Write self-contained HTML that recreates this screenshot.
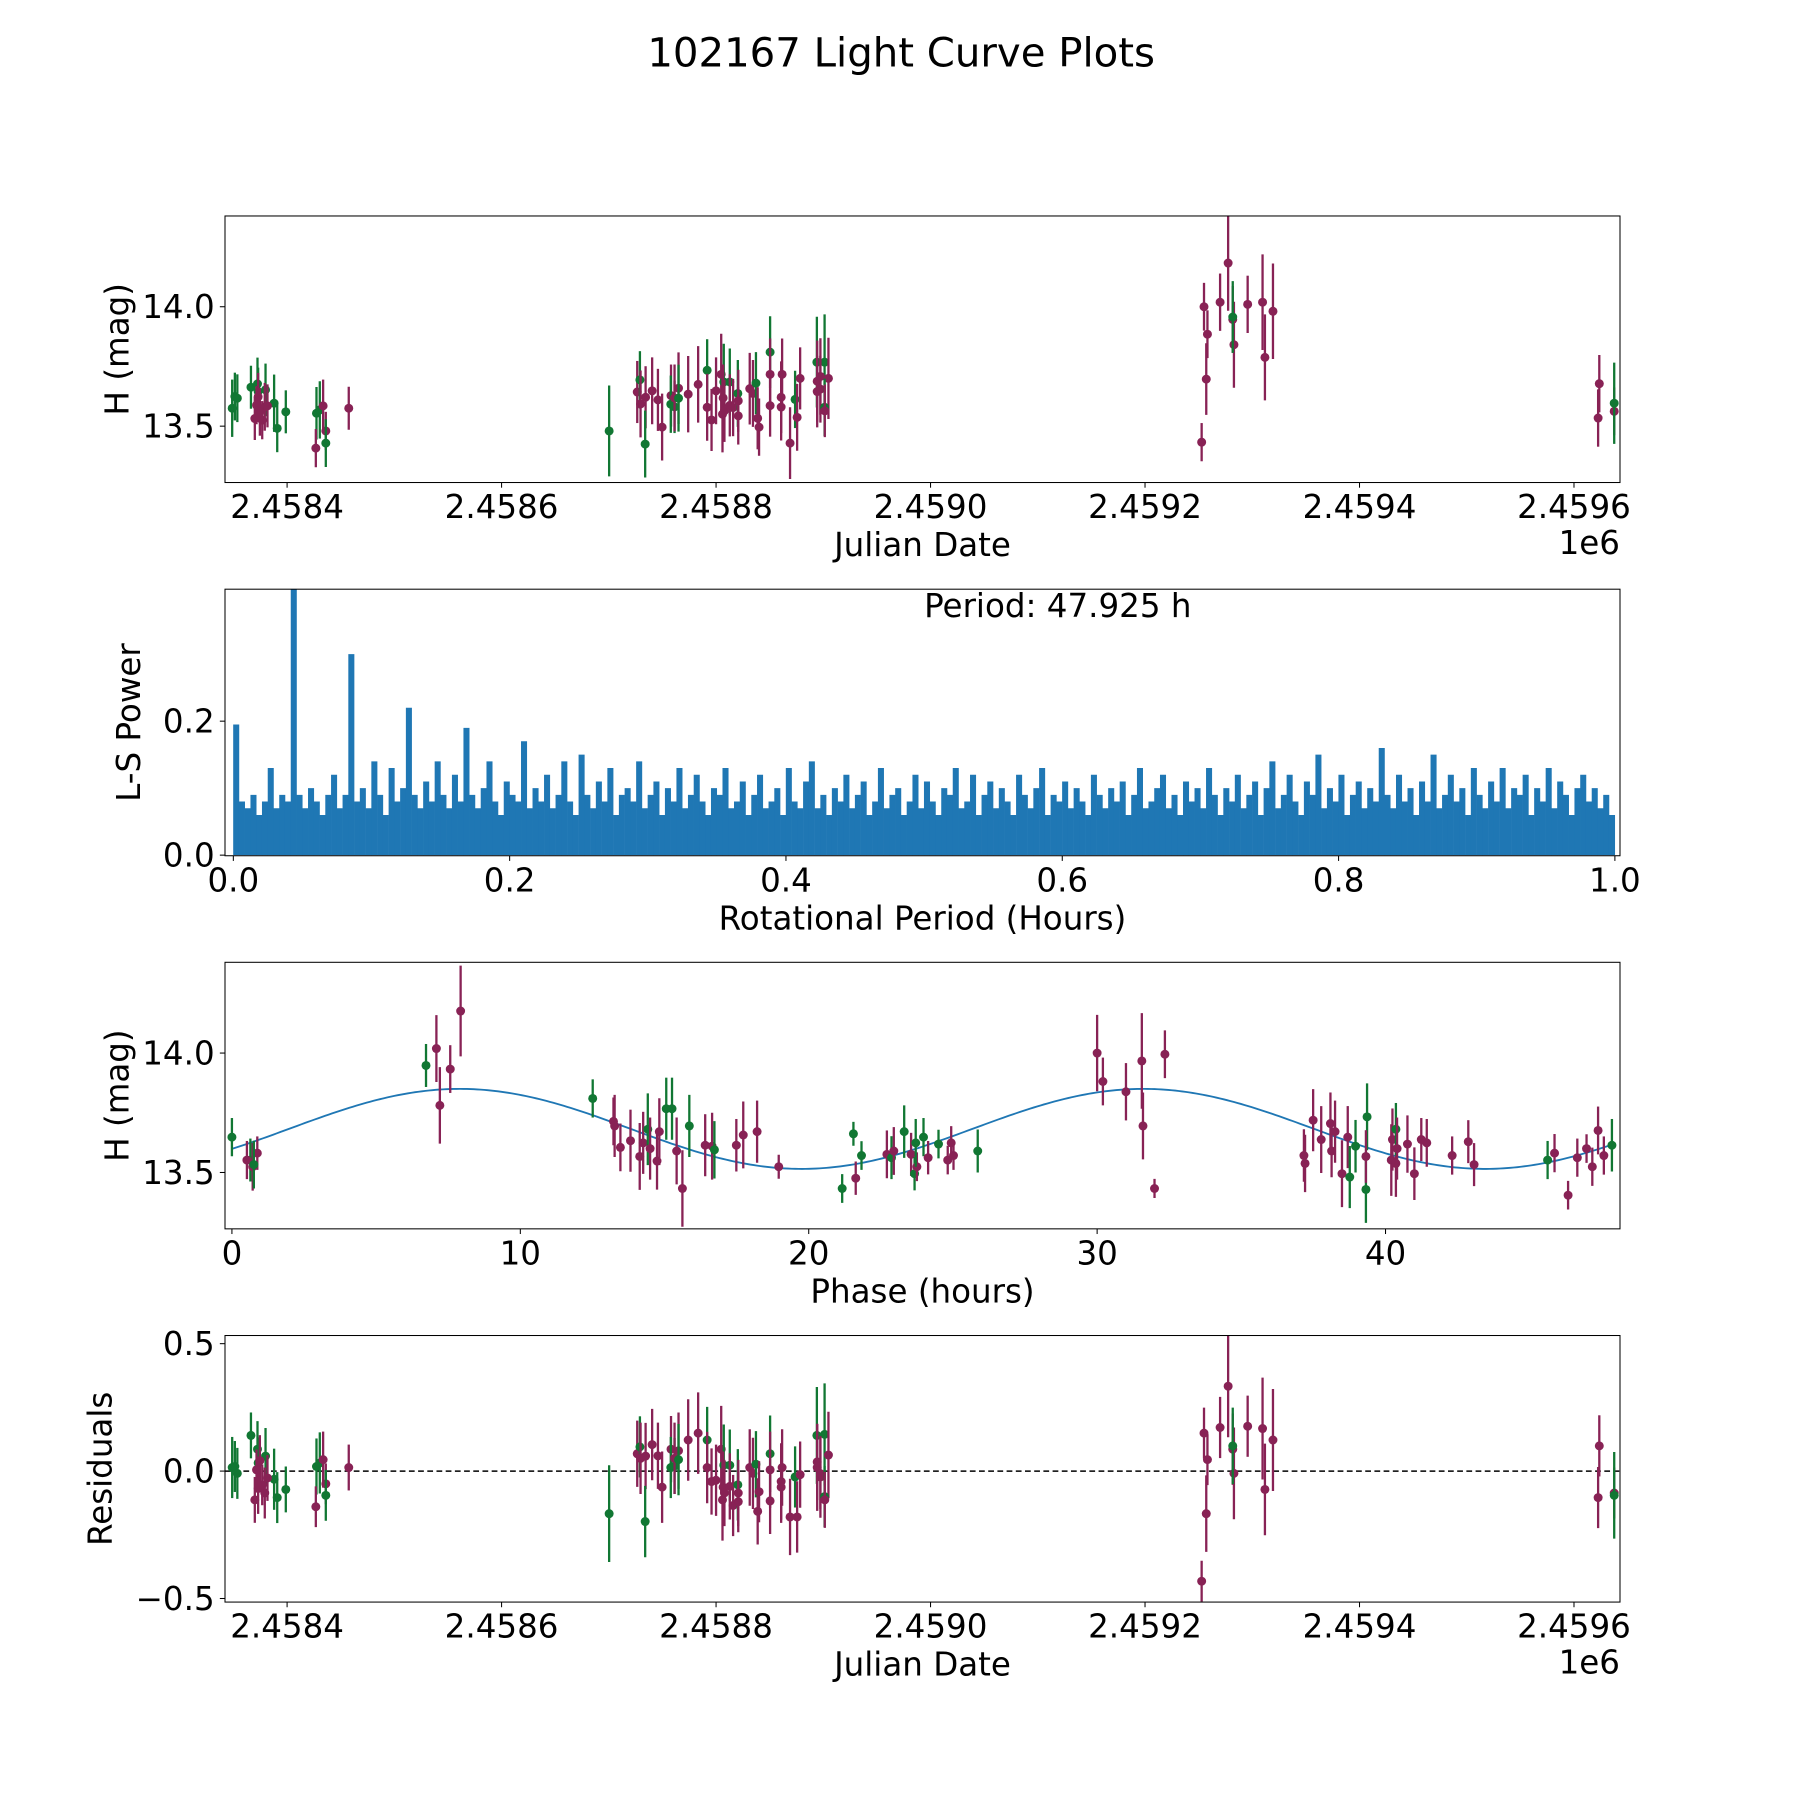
<!DOCTYPE html>
<html><head><meta charset="utf-8"><style>
html,body{margin:0;padding:0;background:#fff;}
svg{display:block;font-family:"DejaVu Sans","Liberation Sans",sans-serif;}
</style></head><body>
<svg id="fig" xmlns="http://www.w3.org/2000/svg" width="1800" height="1800" viewBox="0 0 1566 1566">
<rect width="1566" height="1566" fill="#fff"/>
<text x="784" y="58" font-size="35" text-anchor="middle">102167 Light Curve Plots</text>
</svg>
<script>
// ---- Panel 1 / 4 data: JD - 2458000 ----
const lcT = [348.8,351.3,353.6,366.3,372.4,373,379.9,387.9,390.8,398.8,373,379.2,369.9,376.8,381.7,374.6,371.5,427.4,430.5,433.6,426.8,436.1,436.1,457.5,
700.3,726.5,729,729.6,734.3,733.9,740.4,745.8,749.7,758,757.8,761.3,761.3,765,765,774,783.3,791.7,791.7,795.8,800,804.8,807.2,812.8,806.6,806,807.8,812.8,815.9,820.3,820.7,820.7,831.4,834.4,837.2,838.8,840.1,850.4,850.4,850.4,861.6,860.7,860.7,869,873.7,875.6,878.4,894,901.2,894.3,897.3,904.8,894.3,897.3,901.2,901.4,
1252.8,1255,1257.1,1258.2,1270,1277.5,1281.8,1282.9,1281.8,1295.7,1309.6,1311.8,1319.3,
1622.5,1623.6,1637.5,1637.5];
const lcMag = [13.575,13.624,13.617,13.663,13.677,13.645,13.652,13.596,13.491,13.560,13.623,13.581,13.532,13.525,13.585,13.560,13.588,13.554,13.568,13.585,13.408,13.480,13.429,13.575,
13.480,13.643,13.694,13.593,13.621,13.425,13.648,13.610,13.496,13.628,13.592,13.581,13.618,13.659,13.617,13.634,13.675,13.734,13.579,13.526,13.648,13.717,13.685,13.685,13.618,13.550,13.564,13.587,13.578,13.637,13.606,13.543,13.657,13.637,13.680,13.533,13.496,13.810,13.717,13.586,13.717,13.621,13.580,13.429,13.612,13.537,13.700,13.768,13.768,13.688,13.708,13.700,13.645,13.655,13.579,13.564,
13.433,14.0,13.697,13.885,14.019,14.183,13.947,13.841,13.957,14.010,14.019,13.788,13.981,
13.534,13.678,13.562,13.596];
const lcErr = [0.12,0.1,0.1,0.09,0.11,0.1,0.11,0.12,0.1,0.09,0.1,0.1,0.09,0.08,0.09,0.1,0.08,0.11,0.12,0.11,0.08,0.08,0.1,0.09,
0.19,0.13,0.12,0.14,0.13,0.14,0.14,0.13,0.14,0.13,0.12,0.11,0.14,0.15,0.14,0.16,0.16,0.13,0.14,0.13,0.14,0.17,0.16,0.14,0.14,0.16,0.13,0.13,0.12,0.14,0.13,0.12,0.15,0.14,0.13,0.13,0.12,0.15,0.15,0.13,0.15,0.15,0.14,0.15,0.12,0.14,0.13,0.19,0.2,0.17,0.16,0.17,0.15,0.14,0.12,0.11,
0.08,0.1,0.15,0.1,0.12,0.2,0.14,0.18,0.15,0.12,0.2,0.18,0.2,
0.12,0.12,0.1,0.17];
const lcCol = ["g","g","g","g","g","g","g","g","g","g","p","p","p","p","p","p","p","g","g","p","p","p","g","p",
"g","p","g","p","p","g","p","p","p","p","g","g","p","p","g","p","p","g","p","p","p","p","g","g","p","p","p","p","p","g","p","p","p","p","g","p","p","g","p","p","p","p","p","p","g","p","p","g","g","p","p","p","p","p","g","p",
"p","p","p","p","p","p","p","p","g","p","p","p","p",
"p","p","p","g"];
const resid = [0.014,0.018,-0.009,0.14,0.086,0.032,0.059,-0.032,-0.104,-0.072,-0.068,-0.086,-0.113,-0.054,-0.027,0.041,0.005,0.018,0.032,0.045,-0.14,-0.05,-0.095,0.014,
-0.167,0.068,0.095,0.05,0.059,-0.198,0.104,0.06,-0.063,0.086,0.014,0.02,0.05,0.08,0.045,0.122,0.149,0.122,0.014,-0.041,-0.036,0.086,0.023,0.023,-0.063,-0.113,-0.086,-0.06,-0.135,-0.054,-0.086,-0.12,0.014,-0.009,0.027,-0.158,-0.081,0.068,0.005,-0.117,0.014,-0.041,-0.063,-0.18,-0.023,-0.18,-0.014,0.14,0.144,0.014,-0.023,0.063,0.036,-0.01,-0.1,-0.113,
-0.432,0.149,-0.167,0.045,0.171,0.333,0.086,-0.009,0.099,0.176,0.167,-0.072,0.122,
-0.104,0.099,-0.086,-0.095];
// ---- Panel 3: phased data ----
const phT = [0,0.64,0.52,0.72,0.88,0.76,6.73,7.09,7.21,7.57,7.93,12.51,13.23,13.27,13.47,13.82,14.14,14.26,14.42,14.5,14.74,14.82,15.06,15.26,15.42,15.62,15.86,16.41,16.65,16.73,17.49,17.73,18.21,18.96,21.16,21.55,21.63,21.83,22.71,22.87,22.95,23.31,23.55,23.67,23.75,23.71,23.98,24.14,24.5,24.82,24.94,25.02,25.86,30.0,30.2,31.0,31.59,31.55,31.99,32.35,37.17,37.21,37.49,37.77,38.09,38.13,38.25,38.49,38.69,38.76,38.96,39.32,39.36,39.32,40.2,40.24,40.36,40.36,40.4,40.76,41.0,41.24,41.43,42.31,42.87,43.07,45.62,45.86,46.33,46.65,46.97,47.17,47.37,47.57,47.85];
const phMag = [13.648,13.552,13.552,13.524,13.581,13.533,13.948,14.019,13.781,13.933,14.176,13.810,13.714,13.695,13.605,13.633,13.567,13.624,13.681,13.6,13.548,13.671,13.767,13.767,13.590,13.433,13.695,13.614,13.610,13.595,13.614,13.657,13.671,13.524,13.433,13.662,13.476,13.571,13.576,13.562,13.590,13.671,13.576,13.495,13.524,13.624,13.648,13.562,13.619,13.552,13.624,13.571,13.590,14.0,13.881,13.838,13.695,13.967,13.433,13.995,13.571,13.538,13.719,13.638,13.705,13.590,13.671,13.495,13.648,13.481,13.610,13.429,13.733,13.567,13.552,13.638,13.538,13.681,13.6,13.619,13.495,13.638,13.624,13.571,13.629,13.533,13.552,13.581,13.405,13.562,13.6,13.524,13.676,13.571,13.614];
const phCol = ["g","g","p","p","p","g","g","p","p","p","p","g","p","p","p","p","p","p","g","p","p","p","g","g","p","p","g","p","p","g","p","p","p","p","g","g","p","g","p","g","p","g","p","g","p","g","g","p","g","p","p","p","g","p","p","p","p","p","p","p","p","p","p","p","p","p","p","p","p","g","g","g","g","p","p","p","p","g","p","p","p","p","p","p","p","p","g","p","p","p","p","p","p","p","g"];
const phErr = [0.08,0.09,0.08,0.1,0.07,0.1,0.09,0.14,0.16,0.1,0.19,0.08,0.1,0.13,0.1,0.13,0.14,0.13,0.15,0.13,0.12,0.14,0.13,0.13,0.14,0.16,0.13,0.13,0.14,0.12,0.11,0.14,0.13,0.05,0.06,0.05,0.07,0.06,0.1,0.09,0.1,0.11,0.09,0.07,0.06,0.1,0.08,0.07,0.06,0.06,0.07,0.06,0.09,0.16,0.1,0.12,0.14,0.2,0.04,0.1,0.11,0.12,0.13,0.14,0.13,0.11,0.13,0.14,0.13,0.13,0.11,0.14,0.14,0.11,0.15,0.13,0.14,0.11,0.13,0.12,0.11,0.09,0.1,0.08,0.09,0.09,0.08,0.08,0.06,0.08,0.06,0.08,0.1,0.08,0.11];
// ---- Sinusoid fit params ----
const fitMean = 13.6825, fitAmp = 0.1675, fitPeak = 7.9, fitPer = 23.7, fitEnd = 47.925;
// ---- Periodogram ----
const lsPower = [0.195,0.08,0.07,0.09,0.06,0.08,0.13,0.07,0.09,0.08,0.45,0.09,0.07,0.1,0.08,0.06,0.09,0.12,0.07,0.09,
0.30,0.08,0.1,0.07,0.14,0.09,0.06,0.13,0.08,0.1,0.22,0.09,0.07,0.11,0.08,0.14,0.09,0.07,0.12,0.08,
0.19,0.09,0.07,0.1,0.14,0.08,0.06,0.11,0.09,0.08,0.17,0.07,0.1,0.08,0.12,0.07,0.09,0.14,0.08,0.06,
0.15,0.09,0.07,0.11,0.08,0.13,0.06,0.09,0.1,0.08,0.14,0.07,0.09,0.11,0.06,0.1,0.08,0.13,0.07,0.09,
0.12,0.08,0.06,0.1,0.09,0.13,0.07,0.08,0.11,0.06,0.09,0.12,0.07,0.08,0.1,0.06,0.13,0.08,0.07,0.11,
0.14,0.07,0.09,0.06,0.1,0.08,0.12,0.07,0.09,0.11,0.06,0.08,0.13,0.07,0.09,0.1,0.06,0.08,0.12,0.07,
0.11,0.08,0.06,0.1,0.09,0.13,0.07,0.08,0.12,0.06,0.09,0.11,0.07,0.1,0.08,0.06,0.12,0.09,0.07,0.1,
0.13,0.06,0.09,0.08,0.11,0.07,0.1,0.08,0.06,0.12,0.09,0.07,0.1,0.08,0.11,0.06,0.09,0.13,0.07,0.08,
0.1,0.12,0.07,0.09,0.06,0.11,0.08,0.1,0.07,0.13,0.09,0.06,0.1,0.08,0.12,0.07,0.09,0.11,0.06,0.1,
0.14,0.07,0.09,0.12,0.08,0.06,0.11,0.09,0.15,0.07,0.1,0.08,0.12,0.06,0.09,0.11,0.07,0.1,0.08,0.16,
0.09,0.07,0.12,0.08,0.1,0.06,0.11,0.08,0.15,0.07,0.09,0.12,0.08,0.1,0.06,0.13,0.09,0.07,0.11,0.08,
0.13,0.07,0.1,0.09,0.12,0.06,0.1,0.08,0.13,0.07,0.11,0.09,0.06,0.1,0.12,0.08,0.1,0.07,0.09,0.06];
// ---- Ticks ----
const jdTicks = [400,600,800,1000,1200,1400,1600];
const jdTickLabels = ["2.4584","2.4586","2.4588","2.4590","2.4592","2.4594","2.4596"];
const magTicks = [14.0,13.5];
const magTickLabels = ["14.0","13.5"];
const lsXTicks = [0,0.2,0.4,0.6,0.8,1.0];
const lsXTickLabels = ["0.0","0.2","0.4","0.6","0.8","1.0"];
const lsYTicks = [0,0.2];
const lsYTickLabels = ["0.0","0.2"];
const phTicks = [0,10,20,30,40];
const phTickLabels = ["0","10","20","30","40"];
const resTicks = [0.5,0,-0.5];
const resTickLabels = ["0.5","0.0","\u22120.5"];

const NS = "http://www.w3.org/2000/svg";
const svg = document.getElementById("fig");
const COL = {p:"#882255", g:"#117733"};
const L = 195.75, R = 1409.4, H = 231.9, FS = 28.3;
function mk(tag, attrs, parent){const e=document.createElementNS(NS,tag);for(const k in attrs)e.setAttribute(k,attrs[k]);(parent||svg).appendChild(e);return e;}
function lin(d0,d1,r0,r1){return v=>r0+(v-d0)/(d1-d0)*(r1-r0);}

function makeAxes(name, top, xd, yd, xT, xTL, yT, yTL, xlab, ylab, ylabX){
  const g = mk("g",{});
  
  
  const sx = lin(xd[0],xd[1],L,R), sy = lin(yd[0],yd[1],top+H,top);
  const cid = name+"-clip";
  const cp = mk("clipPath",{id:cid},g); mk("rect",{x:L,y:top,width:R-L,height:H},cp);
  const plot = mk("g",{"clip-path":"url(#"+cid+")"},g);
  
  
  xT.forEach((v,i)=>{
    const x=sx(v);
    mk("line",{x1:x,x2:x,y1:top+H,y2:top+H+4.5,stroke:"#000","stroke-width":0.9},g);
    const t=mk("text",{x:x,y:top+H+31,"font-size":FS,"text-anchor":"middle"},g);
    t.textContent=xTL[i];
    
    
  });
  yT.forEach((v,i)=>{
    const y=sy(v);
    mk("line",{x1:L-4.5,x2:L,y1:y,y2:y,stroke:"#000","stroke-width":0.9},g);
    const t=mk("text",{x:L-9,y:y+10,"font-size":FS,"text-anchor":"end"},g);
    t.textContent=yTL[i];
    
    
  });
  const xl=mk("text",{x:(L+R)/2,y:top+H+64,"font-size":FS,"text-anchor":"middle"},g);
  xl.textContent=xlab;
  
  
  const cy=top+H/2;
  const yl=mk("text",{x:ylabX,y:cy,"font-size":FS,"text-anchor":"middle",transform:"rotate(-90 "+ylabX+" "+cy+")"},g);
  yl.textContent=ylab;
  
  
  return {g,plot,sx,sy,top,frame:()=>mk("rect",{x:L,y:top,width:R-L,height:H,fill:"none",stroke:"#000","stroke-width":0.9},g)};
}
function errPoints(ax, xs, ys, es, cs, label){
  xs.forEach((xv,i)=>{
    const x=ax.sx(xv), c=COL[cs[i]];
    const l=mk("line",{x1:x,x2:x,y1:ax.sy(ys[i]-es[i]),y2:ax.sy(ys[i]+es[i]),stroke:c,"stroke-width":2},ax.plot);
    
    
    const p=mk("circle",{cx:x,cy:ax.sy(ys[i]),r:3.9,fill:c},ax.plot);
    
    
  });
}
const jdDom=[342.1,1642.9], magDom=[13.264,14.38];
// Panel 1
const a1 = makeAxes("light-curve-panel",187.9,jdDom,magDom,jdTicks,jdTickLabels,magTicks,magTickLabels,"Julian Date","H (mag)",112);
errPoints(a1, lcT, lcMag, lcErr, lcCol, "light-curve");
a1.frame();
const off1=mk("text",{x:R,y:482,"font-size":FS,"text-anchor":"end"},a1.g); off1.textContent="1e6";


// Panel 2
const a2 = makeAxes("periodogram-panel",512.6,[-0.00603,1.0037],[-0.0009,0.397],lsXTicks,lsXTickLabels,lsYTicks,lsYTickLabels,"Rotational Period (Hours)","L-S Power",122);
const step = 1/lsPower.length;
lsPower.forEach((v,i)=>{
  const x=a2.sx(i*step+step/2);
  const b=mk("line",{x1:x,x2:x,y1:a2.sy(0),y2:a2.sy(v),stroke:"#1f77b4","stroke-width":(a2.sx(step)-a2.sx(0))*1.05},a2.plot);
  
  
});
a2.frame();
const pt=mk("text",{x:a2.sx(0.5),y:537,"font-size":FS},a2.g); pt.textContent="Period: 47.925 h";


// Panel 3
const a3 = makeAxes("phase-panel",837.2,[-0.24,48.13],magDom,phTicks,phTickLabels,magTicks,magTickLabels,"Phase (hours)","H (mag)",112);
let d="";
for(let k=0;k<=400;k++){const t=fitEnd*k/400;const m=fitMean+fitAmp*Math.cos(2*Math.PI*(t-fitPeak)/fitPer);d+=(k?"L":"M")+a3.sx(t).toFixed(2)+","+a3.sy(m).toFixed(2);}
const fit=mk("path",{d:d,fill:"none",stroke:"#1f77b4","stroke-width":1.6},a3.plot);


errPoints(a3, phT, phMag, phErr, phCol, "phased");
a3.frame();
// Panel 4
const a4 = makeAxes("residuals-panel",1161.9,jdDom,[-0.514,0.532],jdTicks,jdTickLabels,resTicks,resTickLabels,"Julian Date","Residuals",97);
const zl=mk("line",{x1:L,x2:R,y1:a4.sy(0),y2:a4.sy(0),stroke:"#000","stroke-width":1.3,"stroke-dasharray":"5,3"},a4.plot);


errPoints(a4, lcT, resid, lcErr, lcCol, "residual");
a4.frame();
const off4=mk("text",{x:R,y:1456,"font-size":FS,"text-anchor":"end"},a4.g); off4.textContent="1e6";


</script>
</body></html>
